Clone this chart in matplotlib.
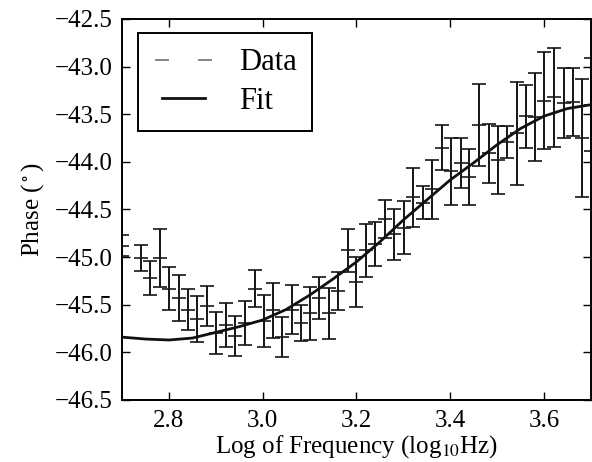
import matplotlib
matplotlib.use("Agg")
import matplotlib.pyplot as plt
from matplotlib.lines import Line2D

plt.rcParams['font.family'] = ['Liberation Serif', 'DejaVu Serif']
plt.rcParams['mathtext.fontset'] = 'stix'

# Data points (log10 frequency), phase, error
log_freq = [2.700, 2.740, 2.760, 2.780, 2.801, 2.821, 2.841, 2.861, 2.881, 2.900,
            2.921, 2.940, 2.962, 2.983, 3.003, 3.023, 3.042, 3.062, 3.081, 3.101,
            3.121, 3.142, 3.161, 3.181, 3.200, 3.220, 3.240, 3.261, 3.281, 3.301,
            3.321, 3.341, 3.361, 3.382, 3.402, 3.422, 3.441, 3.462, 3.482, 3.502,
            3.522, 3.542, 3.562, 3.581, 3.601, 3.622, 3.642, 3.662, 3.681, 3.700]
phase = [-44.88, -45.01, -45.22, -45.01, -45.33, -45.43, -45.55, -45.65, -45.51, -45.80,
         -45.71, -45.83, -45.69, -45.33, -45.67, -45.56, -45.84, -45.55, -45.69, -45.59,
         -45.43, -45.59, -45.36, -44.93, -45.26, -44.93, -44.86, -44.60, -44.76, -44.69,
         -44.37, -44.43, -44.29, -43.85, -44.10, -44.01, -44.16, -43.61, -43.91, -43.98,
         -43.79, -43.70, -43.52, -43.53, -43.36, -43.32, -43.38, -43.37, -43.75, -43.40]
phase_err = [0.11, 0.14, 0.18, 0.30, 0.23, 0.245, 0.22, 0.245, 0.21, 0.22,
             0.23, 0.21, 0.23, 0.19, 0.27, 0.29, 0.21, 0.255, 0.19, 0.28,
             0.22, 0.27, 0.20, 0.23, 0.26, 0.28, 0.23, 0.20, 0.27, 0.28,
             0.31, 0.175, 0.31, 0.24, 0.35, 0.26, 0.29, 0.43, 0.31, 0.36,
             0.17, 0.54, 0.33, 0.46, 0.51, 0.52, 0.37, 0.36, 0.62, 0.49]

# Fit curve samples
fit_x = [2.70, 2.75, 2.80, 2.85, 2.90, 2.95, 3.00, 3.05, 3.10, 3.15, 3.20,
         3.25, 3.30, 3.35, 3.40, 3.45, 3.50, 3.55, 3.60, 3.65, 3.70]
fit_y = [-45.84, -45.86, -45.87, -45.85, -45.79, -45.73, -45.66, -45.55, -45.40, -45.23, -45.05,
         -44.84, -44.61, -44.40, -44.19, -44.01, -43.82, -43.65, -43.52, -43.44, -43.40]

xticks = [2.8, 3.0, 3.2, 3.4, 3.6]
yticks = [-46.5, -46.0, -45.5, -45.0, -44.5, -44.0, -43.5, -43.0, -42.5]

fig = plt.figure(figsize=(5.92, 4.62), dpi=100)
ax = fig.add_axes([0.2061, 0.1342, 0.792, 0.8247])

ax.errorbar(log_freq, phase, yerr=phase_err, fmt='_', color='#1a1a1a',
            ecolor='#151515', elinewidth=1.4, capsize=4.8, capthick=1.2,
            markersize=9.6, markeredgewidth=1.2, zorder=2)
ax.plot(fit_x, fit_y, color='#111111', lw=2.0, zorder=3)

ax.set_xlim(2.7, 3.7)
ax.set_ylim(-46.5, -42.5)
ax.set_xticks(xticks)
ax.set_yticks(yticks)
ax.set_xticklabels(['%.1f' % v for v in xticks])
ax.set_yticklabels([('%.1f' % v).replace('-', '\u2212') for v in yticks])
ax.tick_params(direction='in', top=True, right=True, length=5.5, width=1,
               labelsize=18, pad=7)
for s in ax.spines.values():
    s.set_linewidth(1.4)

ax.set_xlabel('Log of Frequency (log$_{10}$Hz)', fontsize=18, labelpad=1)
ax.set_ylabel('Phase ($^\\circ$)', fontsize=18, labelpad=6)

h_data = Line2D([], [], linestyle='none', marker='_', color='0.45',
                markersize=10, markeredgewidth=1.2)
h_fit = Line2D([], [], color='#111111', lw=2.0)
leg = ax.legend([h_data, h_fit], ['Data', 'Fit'], loc='upper left',
                bbox_to_anchor=(0.034, 0.963), borderaxespad=0, numpoints=2,
                fancybox=False, fontsize=22, handlelength=2.0, handletextpad=0.8,
                borderpad=0.5, labelspacing=0.3, framealpha=1)
leg.get_frame().set_edgecolor('black')
leg.get_frame().set_linewidth(1.4)

fig.savefig('out.png', dpi=100)
